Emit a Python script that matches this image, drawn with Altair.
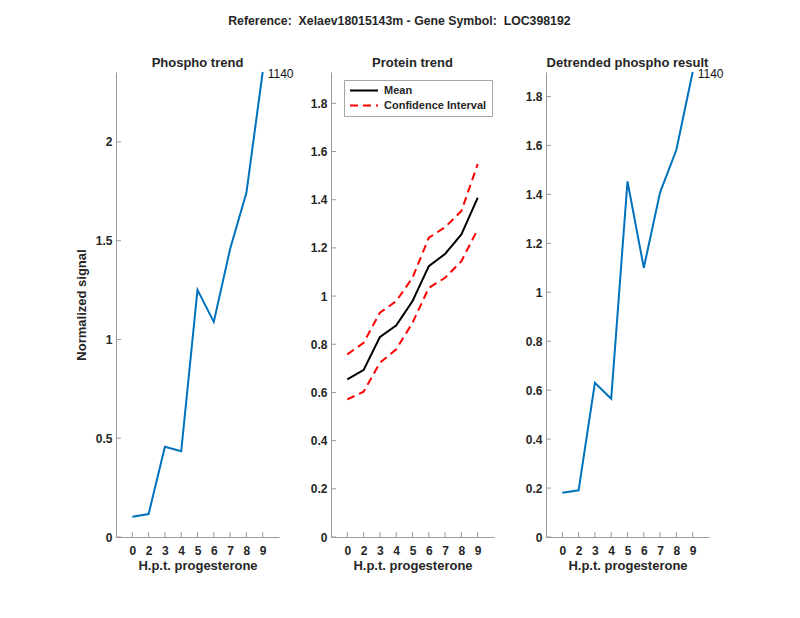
import altair as alt
import pandas as pd

# ---------------- data ----------------
x_pos = [1, 2, 3, 4, 5, 6, 7, 8, 9]
x_labels = ["0", "2", "3", "4", "5", "6", "7", "8", "9"]

phospho = [0.103, 0.116, 0.457, 0.434, 1.251, 1.089, 1.458, 1.742, 2.354]
protein_mean = [0.654, 0.693, 0.830, 0.878, 0.979, 1.124, 1.175, 1.256, 1.408]
protein_upper = [0.758, 0.806, 0.931, 0.979, 1.076, 1.242, 1.286, 1.353, 1.548]
protein_lower = [0.571, 0.603, 0.723, 0.779, 0.889, 1.034, 1.076, 1.145, 1.277]
detrended = [0.181, 0.191, 0.630, 0.565, 1.453, 1.100, 1.408, 1.582, 1.900]
peak_label = "1140"

y1_ticks = [0, 0.5, 1, 1.5, 2]
y2_ticks = [0, 0.2, 0.4, 0.6, 0.8, 1.0, 1.2, 1.4, 1.6, 1.8]
y3_ticks = [0, 0.2, 0.4, 0.6, 0.8, 1.0, 1.2, 1.4, 1.6, 1.8]
y1_max = 2.354
y2_max = 1.93
y3_max = 1.90

main_title = "Reference: \u00a0Xelaev18015143m - Gene Symbol: \u00a0LOC398192"
titles = ["Phospho trend", "Protein trend", "Detrended phospho result"]
x_title = "H.p.t. progesterone"
y_title = "Normalized signal"

# ---------------- style ----------------
W, H = 163, 465
FONT = "Liberation Sans"
TXT = "#262626"
AX = "#9a9a9a"
BLUE = "#0072BD"

label_expr = "[" + ",".join(f"'{l}'" for l in x_labels) + "][datum.value - 1]"
xscale = alt.Scale(domain=[0, 10], nice=False, zero=False)


def xaxis():
    return alt.Axis(values=x_pos, labelExpr=label_expr, title=x_title, ticks=False,
                    labelPadding=8, titlePadding=3, grid=False)


def yaxis(ticks, title):
    return alt.Axis(values=ticks, format="~g", title=title, ticks=False,
                    labelPadding=4, titlePadding=7, grid=False)


def panel(layers, ymax, yticks, ytitle, ttl, toff):
    yscale = alt.Scale(domain=[0, ymax], nice=False, zero=True)
    xa = xaxis()
    ya = yaxis(yticks, ytitle)
    built = []
    for mk in layers:
        built.append(mk(xa, ya, yscale))
    # inward ticks
    xt = alt.Chart(pd.DataFrame({"x": x_pos})).mark_rule(color=AX, strokeWidth=1).encode(
        x=alt.X("x:Q", scale=xscale, axis=xa),
        y=alt.value(H), y2=alt.value(H - 5))
    yt = alt.Chart(pd.DataFrame({"t": yticks})).mark_rule(color=AX, strokeWidth=1).encode(
        y=alt.Y("t:Q", scale=yscale, axis=ya),
        x=alt.value(0), x2=alt.value(5))
    return alt.layer(*built, xt, yt).properties(
        width=W, height=H,
        title=alt.TitleParams(ttl, fontSize=13, fontWeight="bold", color=TXT,
                              font=FONT, offset=toff, frame="group"))


def simple_line(values):
    df = pd.DataFrame({"x": x_pos, "v": values})

    def mk(xa, ya, ys):
        return alt.Chart(df).mark_line(color=BLUE, strokeWidth=2).encode(
            x=alt.X("x:Q", scale=xscale, axis=xa),
            y=alt.Y("v:Q", scale=ys, axis=ya))
    return mk


def end_label(values):
    df = pd.DataFrame({"x": [x_pos[-1]], "v": [values[-1]], "lab": [peak_label]})

    def mk(xa, ya, ys):
        return alt.Chart(df).mark_text(align="left", baseline="middle", dx=5, dy=2,
                                       fontSize=12, font=FONT, color="#111111").encode(
            x=alt.X("x:Q", scale=xscale, axis=xa),
            y=alt.Y("v:Q", scale=ys, axis=ya),
            text="lab:N")
    return mk


rows = []
for i, x in enumerate(x_pos):
    rows.append({"x": x, "v": protein_mean[i], "series": "Mean", "line": "mean"})
    rows.append({"x": x, "v": protein_upper[i], "series": "Confidence Interval", "line": "upper"})
    rows.append({"x": x, "v": protein_lower[i], "series": "Confidence Interval", "line": "lower"})
df2 = pd.DataFrame(rows)


def protein_lines(xa, ya, ys):
    leg = alt.Legend(title=None, orient="none", legendX=13, legendY=8,
                     symbolType="stroke", symbolSize=784, symbolStrokeWidth=2,
                     clipHeight=11, rowPadding=3, padding=5, labelOffset=5,
                     labelFontSize=11, labelFontWeight="bold", labelColor=TXT,
                     labelFont=FONT, strokeColor="#a6a6a6", fillColor="white")
    return alt.Chart(df2).mark_line(strokeWidth=2).encode(
        x=alt.X("x:Q", scale=xscale, axis=xa),
        y=alt.Y("v:Q", scale=ys, axis=ya),
        color=alt.Color("series:N", scale=alt.Scale(domain=["Mean", "Confidence Interval"],
                                                    range=["black", "red"]), legend=leg),
        strokeDash=alt.StrokeDash("series:N", scale=alt.Scale(domain=["Mean", "Confidence Interval"],
                                                             range=[[1, 0], [8, 5]]), legend=leg),
        detail="line:N")


p1 = panel([simple_line(phospho), end_label(phospho)], y1_max, y1_ticks, y_title, titles[0], -2)
p2 = panel([protein_lines], y2_max, y2_ticks, "", titles[1], 2)
p3 = panel([simple_line(detrended), end_label(detrended)], y3_max, y3_ticks, "", titles[2], -2)

chart = alt.hconcat(p1, p2, p3, spacing=52, bounds="flush").resolve_scale(
    color="independent", strokeDash="independent"
).resolve_legend(
    color="independent", strokeDash="independent"
).properties(
    title=alt.TitleParams(main_title, fontSize=12.3, fontWeight="bold", color=TXT,
                          font=FONT, anchor="middle", offset=30),
    padding={"left": 67, "top": 6, "right": 5, "bottom": 5},
).configure_view(stroke=None).configure_axis(
    domainColor=AX, domainWidth=1,
    labelFont=FONT, labelFontSize=12, labelFontWeight="bold", labelColor=TXT,
    titleFont=FONT, titleFontSize=13, titleFontWeight="bold", titleColor=TXT,
)

chart.save("out.html", embed_options={"renderer": "svg", "actions": False})
